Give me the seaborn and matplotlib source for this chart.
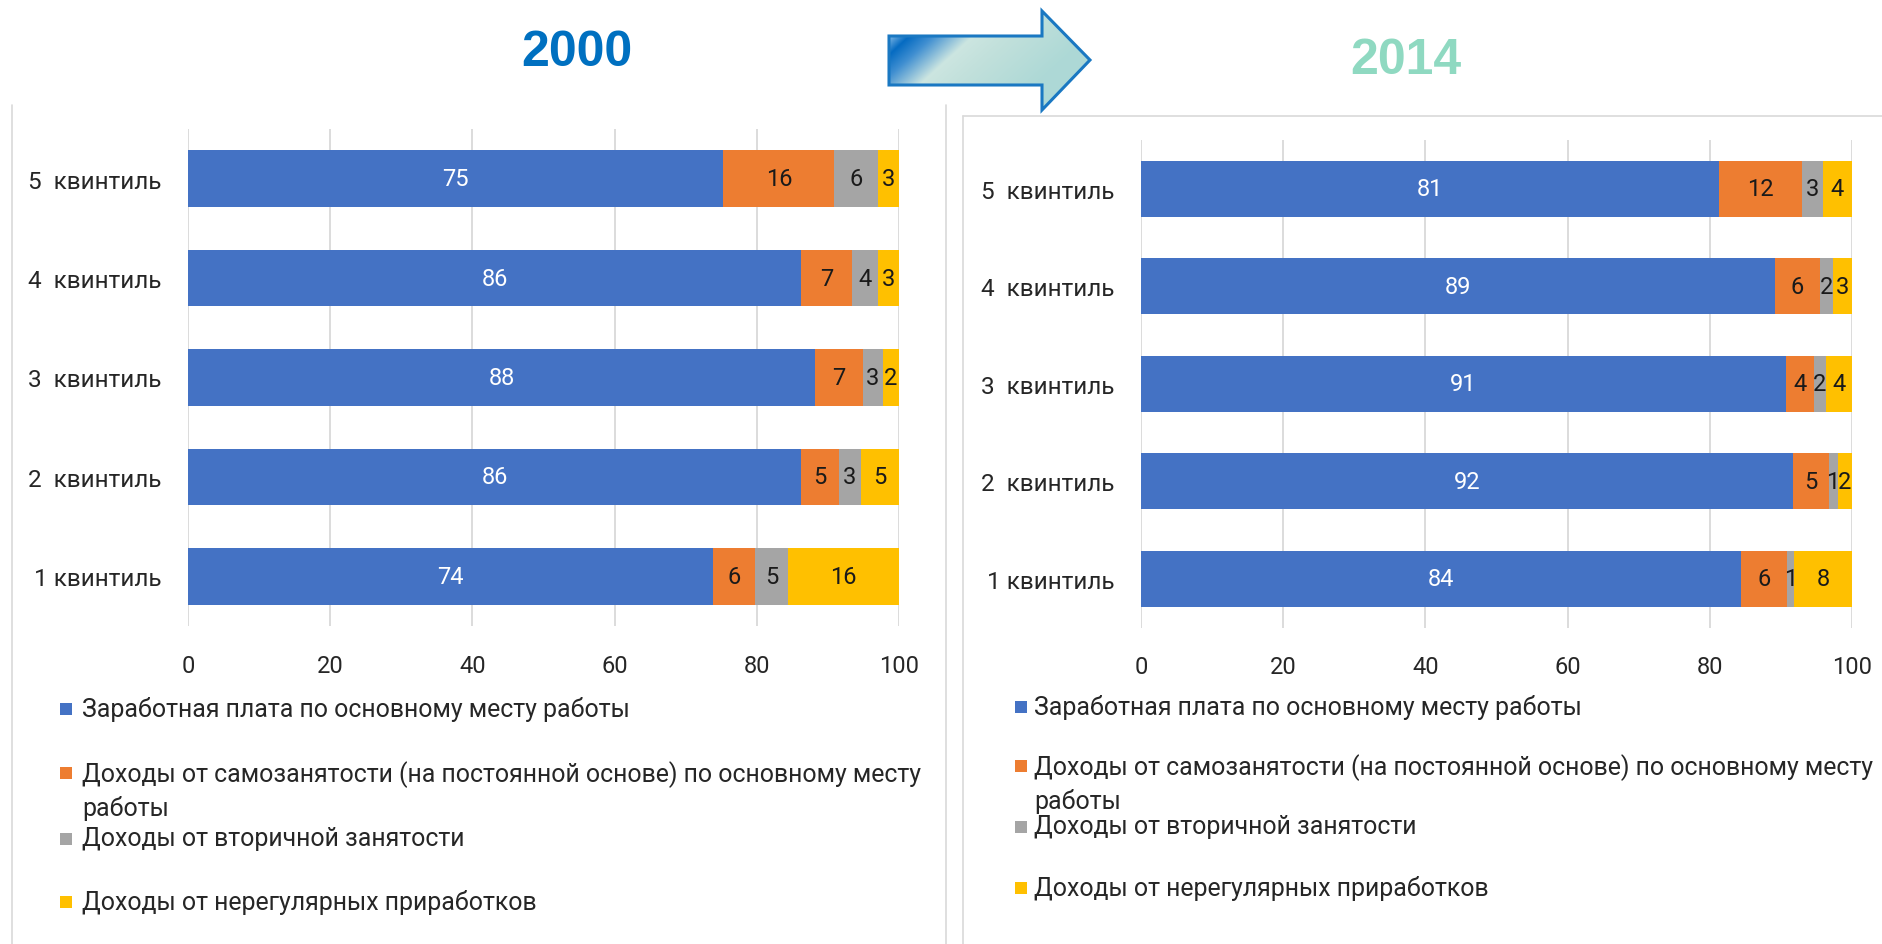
import numpy as np
import pandas as pd
import matplotlib
matplotlib.use("Agg")
import matplotlib.pyplot as plt
import seaborn as sns
from matplotlib.patches import Polygon, Rectangle
from matplotlib.lines import Line2D

# ---------------- data ----------------
quintiles = ["5  квинтиль", "4  квинтиль", "3  квинтиль", "2  квинтиль", "1 квинтиль"]
series_names = [
    "Заработная плата по основному месту работы",
    "Доходы от самозанятости (на постоянной основе) по основному месту\nработы",
    "Доходы от вторичной занятости",
    "Доходы от нерегулярных приработков",
]
ticks = [0, 20, 40, 60, 80, 100]

wage_2000 = [75.3, 86.2, 88.2, 86.2, 73.8]
self_2000 = [15.6, 7.2, 6.7, 5.3, 6.0]
second_2000 = [6.2, 3.7, 2.8, 3.2, 4.6]
irregular_2000 = [2.9, 2.9, 2.3, 5.3, 15.6]

wage_2014 = [81.3, 89.2, 90.7, 91.7, 84.4]
self_2014 = [11.6, 6.3, 3.9, 5.0, 6.4]
second_2014 = [3.0, 1.8, 1.8, 1.3, 1.1]
irregular_2014 = [4.1, 2.7, 3.6, 2.0, 8.1]

years = ["2000", "2014"]

# ---------------- style ----------------
colors = ["#4472C4", "#ED7D31", "#A5A5A5", "#FFC000"]
label_colors = ["white", "#1a1a1a", "#1a1a1a", "#1a1a1a"]
sns.set_theme(style="white")
FONT = ["Roboto", "DejaVu Sans"]
plt.rcParams["font.family"] = FONT
FS = 17
FS_CAT = 17.5
FS_LEG = 17.9
W, H = 1882, 945
fig = plt.figure(figsize=(W / 100, H / 100), dpi=100)

# background overlay axes in pixel coordinates
bg = fig.add_axes([0, 0, 1, 1], zorder=0)
bg.set_xlim(0, W)
bg.set_ylim(H, 0)
bg.axis("off")

# panel borders
border = "#D9D9D9"
bg.add_line(Line2D([12, 12], [106, H], color=border, lw=1.2))
bg.add_line(Line2D([946, 946], [106, H], color=border, lw=1.2))
bg.add_line(Line2D([963, 963], [117, H], color=border, lw=1.2))
bg.add_line(Line2D([963, W], [117, 117], color=border, lw=1.2))

# titles
bg.text(577, 53, years[0], color="#0070C0", fontsize=36, fontweight="bold",
        ha="center", va="center", family=["Liberation Sans", "DejaVu Sans"])
bg.text(1406, 61, years[1], color="#8FD9C1", fontsize=36, fontweight="bold",
        ha="center", va="center", family=["Liberation Sans", "DejaVu Sans"])

# arrow with gradient
arrow_pts = [(889, 37), (1042, 37), (1042, 12), (1090, 61), (1042, 111),
             (1042, 86), (889, 86)]
xs = np.linspace(885, 1095, 220)
ys = np.linspace(8, 115, 110)
XX, YY = np.meshgrid(xs, ys)
t = ((XX - 889) * 1.0 + (YY - 37) * 1.1) / 200.0
t = np.clip(t, 0, 1)
stops = np.array([0.0, 0.1, 0.22, 0.42, 0.6, 1.0])
cols = np.array([
    [0.50, 0.72, 0.90],
    [0.02, 0.42, 0.76],
    [0.25, 0.56, 0.82],
    [0.80, 0.90, 0.88],
    [0.76, 0.88, 0.86],
    [0.68, 0.85, 0.84],
])
img = np.zeros(XX.shape + (3,))
for c in range(3):
    img[..., c] = np.interp(t, stops, cols[:, c])
poly = Polygon(arrow_pts, closed=True, facecolor="none", edgecolor="#1A78C2",
               lw=2.2, zorder=3)
im = bg.imshow(img, extent=(885, 1095, 115, 8), zorder=2, aspect="auto")
bg.add_patch(poly)
im.set_clip_path(poly)
bg.set_xlim(0, W)
bg.set_ylim(H, 0)


def draw_panel(rect, parts):
    ax = fig.add_axes(rect, zorder=1)
    ax.patch.set_alpha(0)
    cums = np.cumsum(np.array(parts, dtype=float), axis=0)
    for i in reversed(range(len(parts))):
        sns.barplot(x=cums[i], y=quintiles, color=colors[i], orient="h",
                    width=0.57, saturation=1, errorbar=None, linewidth=0,
                    ax=ax)
    for i, p in enumerate(parts):
        for j, v in enumerate(p):
            ax.text(cums[i][j] - v / 2, j, f"{round(v):.0f}", ha="center",
                    va="center", color=label_colors[i], fontsize=FS)
    ax.set_xlim(0, 100)
    ax.set_ylim(4.5, -0.5)
    ax.set_xticks(ticks)
    ax.set_xticklabels([str(v) for v in ticks])
    ax.grid(axis="x", color="#D9D9D9", lw=1.3)
    ax.grid(axis="y", visible=False)
    ax.set_axisbelow(True)
    for s in ax.spines.values():
        s.set_visible(False)
    ax.tick_params(axis="x", length=0, pad=20, labelsize=FS, colors="#262626")
    ax.tick_params(axis="y", length=0, pad=19, labelsize=FS_CAT, colors="#262626")
    ax.set_xlabel("")
    ax.set_ylabel("")
    return ax


draw_panel([188 / W, 1 - 627 / H, 711 / W, 497 / H],
           [wage_2000, self_2000, second_2000, irregular_2000])
draw_panel([1141 / W, 1 - 628.5 / H, 711 / W, 487.5 / H],
           [wage_2014, self_2014, second_2014, irregular_2014])


def legend(xm, xt, ys_):
    for i, name in enumerate(series_names):
        y = ys_[i]
        bg.add_patch(Rectangle((xm, y - 6), 12, 12, facecolor=colors[i],
                               edgecolor="none"))
        bg.text(xt, y - 13, name, ha="left", va="top", fontsize=FS_LEG,
                color="#262626", linespacing=1.4)


legend(60, 82, [710, 774, 840, 903])
legend(1015, 1034, [708, 767, 828, 889])

fig.savefig("out.png", dpi=100, facecolor="white")
